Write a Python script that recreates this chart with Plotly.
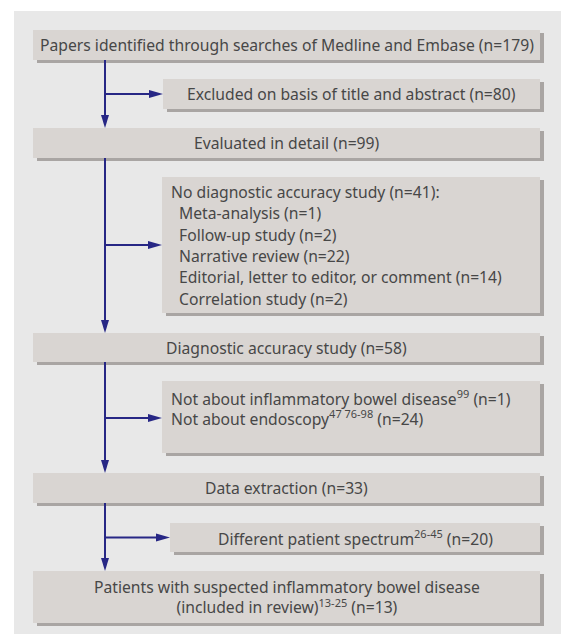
import plotly.graph_objects as go

# ---- content ----
main_labels = [
    "Papers identified through searches of Medline and Embase",
    "Evaluated in detail",
    "Diagnostic accuracy study",
    "Data extraction",
    "Patients with suspected inflammatory bowel disease<br>(included in review)",
]
main_counts = [179, 99, 58, 33, 13]
main_refs = ["", "", "", "", "13-25"]

excluded_label = "Excluded on basis of title and abstract"
excluded_count = 80

no_diag_label = "No diagnostic accuracy study"
no_diag_count = 41
no_diag_reasons = ["Meta-analysis", "Follow-up study", "Narrative review",
                   "Editorial, letter to editor, or comment", "Correlation study"]
no_diag_counts = [1, 2, 22, 14, 2]

not_about_labels = ["Not about inflammatory bowel disease", "Not about endoscopy"]
not_about_refs = ["99", "47 76-98"]
not_about_counts = [1, 24]

spectrum_label = "Different patient spectrum"
spectrum_ref = "26-45"
spectrum_count = 20

# ---- layout geometry (pixels) ----
W, H = 561, 634
PANEL = (14, 11, W + 40, H + 40)
MAIN_X = (33, 540)
MAIN_Y = [(30, 60), (128, 158), (333, 362), (473, 503), (571, 623)]
SIDE_BOXES = [(163, 79, 109), (162, 177, 313), (162, 381, 453), (170, 523, 552)]
SIDE_RIGHT = 540
STEM_X = 105
SHADOW_DX, SHADOW_DY = 4, 3

PANEL_C = "#e8e8e8"
BOX_C = "#d9d5d2"
SHADOW_C = "#a9a5a3"
TEXT_C = "#474747"
LINE_C = "#272785"
FONT = "Noto Sans"
FS = 15.7

shapes = []
annotations = []

def add_box(x0, y0, x1, y1):
    shapes.append(dict(type="rect", x0=x0 + SHADOW_DX, y0=y0 + SHADOW_DY,
                       x1=x1 + SHADOW_DX, y1=y1 + SHADOW_DY,
                       fillcolor=SHADOW_C, line=dict(width=0), layer="above"))
    shapes.append(dict(type="rect", x0=x0, y0=y0, x1=x1, y1=y1,
                       fillcolor=BOX_C, line=dict(width=0), layer="above"))

def add_text(x, y, text, anchor="center", yanchor="middle"):
    annotations.append(dict(x=x, y=y, xref="x", yref="y", text=text,
                            showarrow=False, xanchor=anchor, yanchor=yanchor,
                            align=anchor if anchor != "center" else "center",
                            font=dict(family=FONT, size=FS, color=TEXT_C)))

def add_line(x0, y0, x1, y1):
    shapes.append(dict(type="line", x0=x0, y0=y0, x1=x1, y1=y1,
                       line=dict(color=LINE_C, width=2), layer="above"))

def arrow_down(x, y_tip):
    shapes.append(dict(type="path",
                       path=f"M {x-4} {y_tip-13} L {x+4} {y_tip-13} L {x} {y_tip} Z",
                       fillcolor=LINE_C, line=dict(width=0), layer="above"))

def arrow_right(x_tip, y):
    shapes.append(dict(type="path",
                       path=f"M {x_tip-14} {y-4} L {x_tip-14} {y+4} L {x_tip} {y} Z",
                       fillcolor=LINE_C, line=dict(width=0), layer="above"))

# panel
shapes.append(dict(type="rect", x0=PANEL[0], y0=PANEL[1], x1=PANEL[2], y1=PANEL[3],
                   fillcolor=PANEL_C, line=dict(width=0), layer="below"))

# main boxes
for (y0, y1), lab, n, ref in zip(MAIN_Y, main_labels, main_counts, main_refs):
    add_box(MAIN_X[0], y0, MAIN_X[1], y1)
    sup = f"<sup>{ref}</sup>" if ref else ""
    cx = (MAIN_X[0] + MAIN_X[1]) / 2
    add_text(cx, (y0 + y1) / 2, f"{lab}{sup} (n={n})")

# side boxes
for (x0, y0, y1) in SIDE_BOXES:
    add_box(x0, y0, SIDE_RIGHT, y1)

# excluded
x0, y0, y1 = SIDE_BOXES[0]
add_text((x0 + SIDE_RIGHT) / 2, (y0 + y1) / 2, f"{excluded_label} (n={excluded_count})")

# no diagnostic accuracy
x0, y0, y1 = SIDE_BOXES[1]
LS = 21.3
add_text(x0 + 7, y0 + 15, f"{no_diag_label} (n={no_diag_count}):", anchor="left")
for i, (r, c) in enumerate(zip(no_diag_reasons, no_diag_counts)):
    add_text(x0 + 15, y0 + 15 + LS * (i + 1), f"{r} (n={c})", anchor="left")

# not about
x0, y0, y1 = SIDE_BOXES[2]
not_about_text = "<br>".join(f"{lab}<sup>{ref}</sup> (n={c})"
                             for lab, ref, c in zip(not_about_labels, not_about_refs, not_about_counts))
add_text(x0 + 7, y0 + 27, not_about_text, anchor="left")

# spectrum
x0, y0, y1 = SIDE_BOXES[3]
add_text((x0 + SIDE_RIGHT) / 2, (y0 + y1) / 2, f"{spectrum_label}<sup>{spectrum_ref}</sup> (n={spectrum_count})")

# connectors
for k in range(len(MAIN_Y) - 1):
    ya = MAIN_Y[k][1]
    yb = MAIN_Y[k + 1][0]
    add_line(STEM_X, ya, STEM_X, yb - 6)
    arrow_down(STEM_X, yb)
    sx, sy0, sy1 = SIDE_BOXES[k]
    ym = (sy0 + sy1) / 2 if k != 2 else sy0 + 37
    add_line(STEM_X, ym, sx - 6, ym)
    arrow_right(sx, ym)

fig = go.Figure()
fig.update_layout(
    width=W, height=H,
    margin=dict(l=0, r=0, t=0, b=0),
    paper_bgcolor="white", plot_bgcolor="white",
    xaxis=dict(range=[0, W], visible=False, fixedrange=True),
    yaxis=dict(range=[H, 0], visible=False, fixedrange=True),
    shapes=shapes, annotations=annotations, showlegend=False,
)
fig.write_html("out.html", config={"displayModeBar": False},
               post_script="document.body.style.margin='0';document.body.style.overflow='hidden';")
